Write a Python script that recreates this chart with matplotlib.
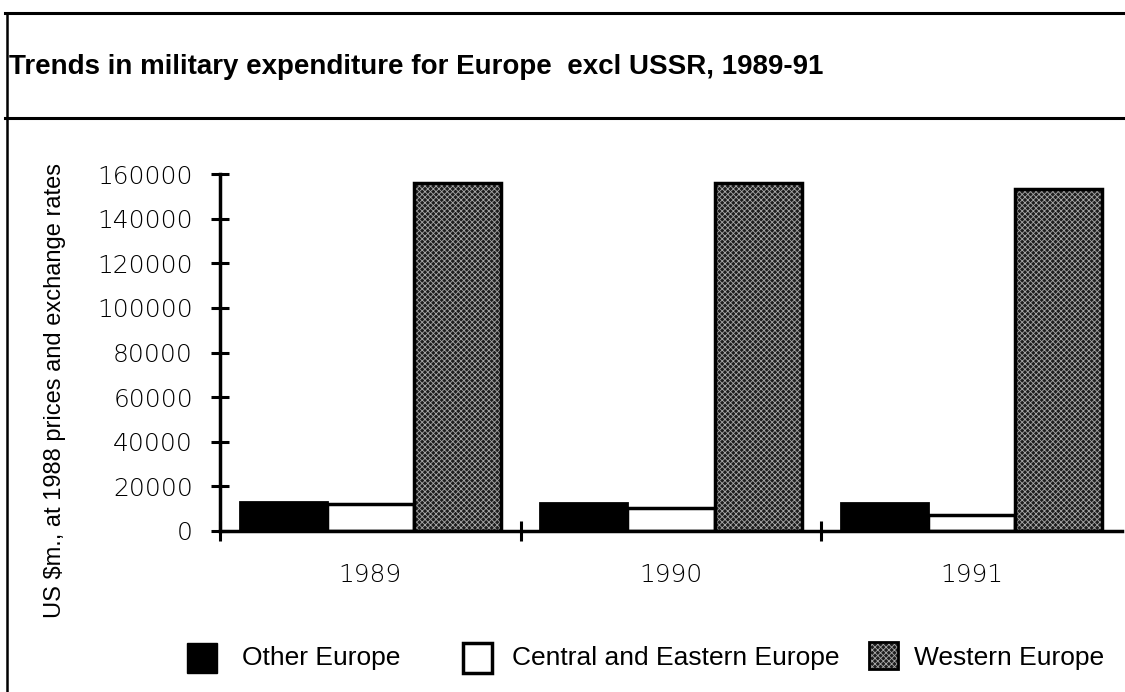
import numpy as np
import matplotlib
matplotlib.use('Agg')
import matplotlib.pyplot as plt
from matplotlib.patches import Rectangle
from matplotlib.lines import Line2D

# data (US $m., 1988 prices)
years = ['1989', '1990', '1991']
series = ['Other Europe', 'Central and Eastern Europe', 'Western Europe']
other_europe = [13000, 12700, 12700]
central_eastern = [12300, 10300, 7200]
western_europe = [156000, 156000, 153500]
yticks = [0, 20000, 40000, 60000, 80000, 100000, 120000, 140000, 160000]

title = 'Trends in military expenditure for Europe  excl USSR, 1989-91'
ylabel = 'US $m., at 1988 prices and exchange rates'

plt.rcParams['font.family'] = ['Liberation Sans', 'DejaVu Sans']
plt.rcParams['hatch.linewidth'] = 0.6

W, H = 1125, 692
fig = plt.figure(figsize=(W / 100, H / 100), dpi=100)
ax = fig.add_axes([220 / W, 1 - 531 / H, 902 / W, 357 / H])

x = np.arange(len(years))
w = 0.29
ax.bar(x - w, other_europe, w, color='black', edgecolor='black', lw=2)
ax.bar(x, central_eastern, w, color='white', edgecolor='black', lw=2.5)
ax.bar(x + w, western_europe, w, color='#1e1e1e', edgecolor='#a8a8a8',
       hatch='xxxxxx', lw=0)
ax.bar(x + w, western_europe, w, fill=False, edgecolor='black', lw=2.5)

ax.set_xlim(-0.5, 2.5)
ax.set_ylim(0, 160000)

tick_font = dict(family='DejaVu Sans', weight='light', size=18)
ax.set_yticks(yticks)
ax.set_yticklabels([str(v) for v in yticks], fontdict=tick_font)
ax.set_xticks(x)
ax.set_xticklabels(years, fontdict=tick_font)
ax.set_xticks([-0.5, 0.5, 1.5], minor=True)

ax.tick_params(axis='y', direction='inout', length=13, width=2.2, pad=13)
ax.tick_params(axis='x', which='major', length=0, pad=23)
ax.tick_params(axis='x', which='minor', direction='inout', length=14, width=2.2)

for s in ['top', 'right']:
    ax.spines[s].set_visible(False)
for s in ['left', 'bottom']:
    ax.spines[s].set_linewidth(2.5)

# frame lines of the original page
fig.add_artist(Line2D([5 / W, 1], [1 - 13 / H] * 2, color='black', lw=2.2))
fig.add_artist(Line2D([5 / W, 1], [1 - 118 / H] * 2, color='black', lw=2.2))
fig.add_artist(Line2D([7 / W] * 2, [0, 1 - 13 / H], color='black', lw=1.8))

fig.text(9 / W, 1 - 67 / H, title, fontsize=20, weight='bold',
         ha='left', va='center')
fig.text(55 / W, 1 - 390 / H, ylabel, fontsize=17, rotation=90,
         ha='center', va='center')

# legend, placed by hand like the original
sw_x = [187, 463, 869]
sw_y = [643, 643, 639]
txt_x = [242, 512, 914]
for i, name in enumerate(series):
    x0, y0 = sw_x[i] / W, 1 - (sw_y[i] + 30) / H
    if i == 0:
        fig.add_artist(Rectangle((x0, y0), 30 / W, 30 / H, facecolor='black',
                                 edgecolor='black', lw=1))
    elif i == 1:
        fig.add_artist(Rectangle((x0, y0), 29 / W, 30 / H, facecolor='white',
                                 edgecolor='black', lw=2.5))
    else:
        fig.add_artist(Rectangle((x0, y0), 29 / W, 27 / H, facecolor='#1e1e1e',
                                 edgecolor='#a8a8a8', hatch='xxxxxx', lw=0))
        fig.add_artist(Rectangle((x0, y0), 29 / W, 27 / H, fill=False,
                                 edgecolor='black', lw=2))
    fig.text(txt_x[i] / W, 1 - 658 / H, name, fontsize=19, ha='left',
             va='center')

fig.savefig('out.png', dpi=100)
